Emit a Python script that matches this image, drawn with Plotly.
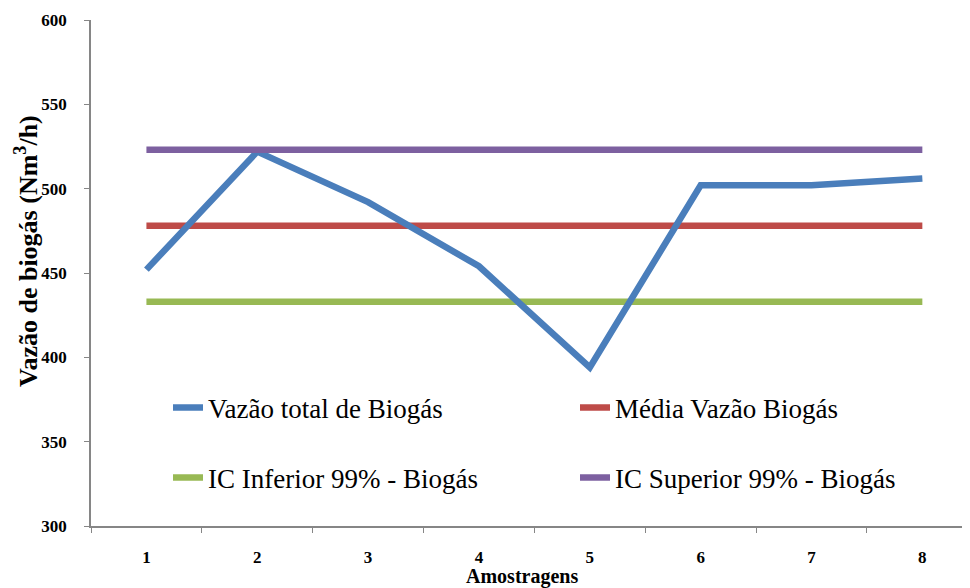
import plotly.graph_objects as go

# ---- data ----
amostras = ["1", "2", "3", "4", "5", "6", "7", "8"]
vazao_total = [452, 522, 492, 454, 394, 502, 502, 506]
media = [478] * 8
ic_inferior = [433] * 8
ic_superior = [523] * 8

y_ticks = [300, 350, 400, 450, 500, 550, 600]

names = ["Vazão total de Biogás", "Média Vazão Biogás",
         "IC Inferior 99% - Biogás", "IC Superior 99% - Biogás"]
colors = ["#4A7EBB", "#BE4B48", "#98B954", "#7D60A0"]

FONT = "Liberation Serif"

fig = go.Figure()
series = [vazao_total, media, ic_inferior, ic_superior]
legends = ["legend", "legend2", "legend3", "legend4"]
for i in [1, 2, 0, 3]:
    fig.add_trace(go.Scatter(
        x=amostras, y=series[i], mode="lines", name=names[i],
        line=dict(color=colors[i], width=6.5),
        legend=legends[i],
    ))

# page has an 8px body margin; figure is sized to compensate
W, H = 962, 580
ML, MT, MB = 83, 12, 62
pw = W - ML
ph = H - MT - MB

def px_x(x_page):
    return (x_page - 8 - ML) / pw

def px_y(y_page):
    return (H - MB - (y_page - 8)) / ph

leg_pos = {
    "legend": (px_x(168), px_y(408)),
    "legend2": (px_x(575), px_y(408)),
    "legend3": (px_x(168), px_y(478)),
    "legend4": (px_x(575), px_y(478)),
}
layout_legends = {}
for k, (x, y) in leg_pos.items():
    layout_legends[k] = dict(
        x=x, y=y, xanchor="left", yanchor="middle",
        bgcolor="rgba(0,0,0,0)", borderwidth=0,
        font=dict(family=FONT, size=27, color="#000000", weight="normal"),
    )

fig.update_layout(
    width=W, height=H,
    margin=dict(l=ML, r=0, t=MT, b=MB),
    paper_bgcolor="white", plot_bgcolor="white",
    font=dict(family=FONT, color="#000000"),
    showlegend=True,
    **layout_legends,
    xaxis=dict(
        type="category", range=[-0.5, 7.43],
        showline=True, linecolor="#868686", linewidth=1.5,
        ticks="outside", tickson="boundaries", ticklen=5, tickcolor="#868686",
        showgrid=False, zeroline=False,
        tickfont=dict(family=FONT, size=17, color="#000000", weight="bold"),
        ticklabelstandoff=15,
    ),
    yaxis=dict(
        range=[300, 600], tickvals=y_ticks,
        showline=True, linecolor="#868686", linewidth=1.5,
        ticks="outside", ticklen=5, tickcolor="#868686",
        showgrid=False, zeroline=False,
        tickfont=dict(family=FONT, size=17, color="#000000", weight="bold"),
        ticklabelstandoff=14,
    ),
    annotations=[
        dict(text="<b>Vazão de biogás (Nm<sup>3</sup>/h)</b>", xref="paper", yref="paper",
             x=px_x(26), y=px_y(251), textangle=-90, showarrow=False,
             xanchor="center", yanchor="middle",
             font=dict(family=FONT, size=26, color="#000000")),
        dict(text="<b>Amostragens</b>", xref="paper", yref="paper",
             x=px_x(522), y=px_y(576), showarrow=False, xanchor="center", yanchor="middle",
             font=dict(family=FONT, size=20, color="#000000")),
    ],
)

fig.write_html("out.html")
